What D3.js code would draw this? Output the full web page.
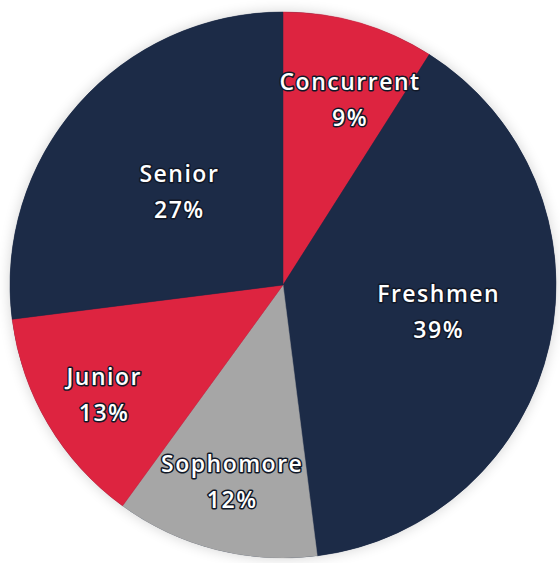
<!DOCTYPE html>
<html>
<head>
<meta charset="utf-8">
<script src="https://cdn.jsdelivr.net/npm/d3@7"></script>
<style>
  html, body { margin: 0; padding: 0; background: #ffffff; }
  svg { display: block; }
</style>
</head>
<body>
<svg id="chart" width="560" height="563"></svg>
<script>
// ---- data ----
const categories = ["Concurrent", "Freshmen", "Sophomore", "Junior", "Senior"];
const values = [9, 39, 12, 13, 27];
const labels = ["9%", "39%", "12%", "13%", "27%"];

// ---- layout / style ----
const sliceColors = ["#dd2440", "#1c2b47", "#a6a6a6", "#dd2440", "#1c2b47"];
const labelRadii = [197, 158, 203, 210, 139];
const labelAngleOffsetDeg = [3.7, -2.8, 0.1, -1.0, 0.4];
const W = 560, H = 563, cx = 283, cy = 285, R = 273;

const svg = d3.select("#chart");
const defs = svg.append("defs");
const f = defs.append("filter").attr("id", "shadow").attr("x", "-20%").attr("y", "-20%").attr("width", "140%").attr("height", "140%");
f.append("feGaussianBlur").attr("in", "SourceAlpha").attr("stdDeviation", 7).attr("result", "b");
f.append("feComponentTransfer").attr("in", "b").attr("result", "s")
  .append("feFuncA").attr("type", "linear").attr("slope", 0.18);
const m = f.append("feMerge");
m.append("feMergeNode").attr("in", "s");
m.append("feMergeNode").attr("in", "SourceGraphic");

const g = svg.append("g").attr("transform", `translate(${cx},${cy})`);

const pie = d3.pie().sort(null).value(d => d.value);
const arcs = pie(categories.map((c, i) => ({ name: c, value: values[i], label: labels[i], i })));
const arc = d3.arc().innerRadius(0).outerRadius(R);

g.append("circle").attr("r", R).attr("fill", "#1c2b47").attr("filter", "url(#shadow)");

g.selectAll("path.slice").data(arcs).enter().append("path")
  .attr("class", "slice")
  .attr("d", arc)
  .attr("fill", d => sliceColors[d.data.i])
  .attr("stroke", d => sliceColors[d.data.i])
  .attr("stroke-width", 0.5);

const lab = g.selectAll("g.lab").data(arcs).enter().append("g")
  .attr("class", "lab")
  .attr("transform", d => {
    const a = (d.startAngle + d.endAngle) / 2 + labelAngleOffsetDeg[d.data.i] * Math.PI / 180;
    const r = labelRadii[d.data.i];
    return `translate(${r * Math.sin(a)},${-r * Math.cos(a)})`;
  });

function addText(sel, dy, textFn) {
  sel.append("text")
    .attr("text-anchor", "middle")
    .attr("y", dy)
    .attr("font-family", "'Open Sans', 'Noto Sans', sans-serif")
    .attr("font-weight", 600)
    .attr("font-size", 23)
    .attr("letter-spacing", 1.5)
    .attr("fill", "#ffffff")
    .attr("stroke", "#111827")
    .attr("stroke-width", 3)
    .attr("stroke-linejoin", "round")
    .attr("paint-order", "stroke")
    .text(textFn);
}
addText(lab, -10, d => d.data.name);
addText(lab, 26, d => d.data.label);
</script>
</body>
</html>
